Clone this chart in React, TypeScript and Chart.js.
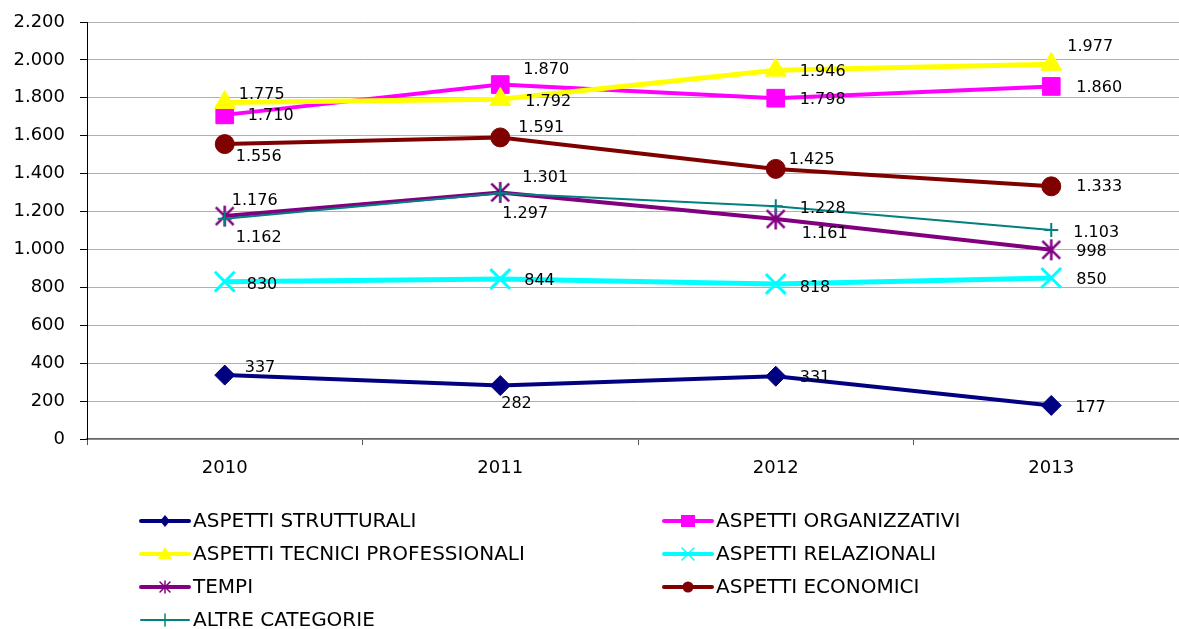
import React, { useEffect, useRef } from 'react';
import { Chart, registerables } from 'chart.js';

Chart.register(...registerables);

// ---------- data ----------
const YEARS = ['2010', '2011', '2012', '2013'];
const ASPETTI_STRUTTURALI = [337, 282, 331, 177];
const ASPETTI_ORGANIZZATIVI = [1710, 1870, 1798, 1860];
const ASPETTI_TECNICI_PROFESSIONALI = [1775, 1792, 1946, 1977];
const ASPETTI_RELAZIONALI = [830, 844, 818, 850];
const TEMPI = [1176, 1301, 1161, 998];
const ASPETTI_ECONOMICI = [1556, 1591, 1425, 1333];
const ALTRE_CATEGORIE = [1162, 1297, 1228, 1103];
const Y_MIN = 0;
const Y_MAX = 2200;
const Y_STEP = 200;

// label nudges (left edge dx, vertical centre dy) relative to each point
const LABEL_NUDGE: number[][][] = [
  [[20, -7], [1, 18], [24, 2], [24, 2]],
  [[23, 1], [23, -15], [24, 2], [25, 1]],
  [[14, -8], [25, 3], [24, 2], [16, -17]],
  [[22, 3], [24, 2], [24, 4], [25, 2]],
  [[7, -15], [22, -15], [26, 15], [25, 2]],
  [[11, 13], [18, -10], [13, -9], [25, 1]],
  [[11, 19], [2, 21], [24, 3], [22, 3]],
];

const FONT = '"DejaVu Sans", Verdana, sans-serif';

const fmt = (v: number) => String(Math.round(v)).replace(/\B(?=(\d{3})+(?!\d))/g, '.');

function makeStar(color: string, size: number, lw: number): HTMLCanvasElement {
  const c = document.createElement('canvas');
  c.width = size;
  c.height = size;
  const ctx = c.getContext('2d')!;
  ctx.strokeStyle = color;
  ctx.lineWidth = lw;
  const h = size / 2;
  const r = h - 1;
  const d = r * 0.85;
  ctx.beginPath();
  ctx.moveTo(h, h - r);
  ctx.lineTo(h, h + r);
  ctx.moveTo(h - d, h - d);
  ctx.lineTo(h + d, h + d);
  ctx.moveTo(h + d, h - d);
  ctx.lineTo(h - d, h + d);
  ctx.stroke();
  return c;
}

type Series = {
  label: string;
  data: number[];
  color: string;
  lw: number;
  marker: string;
  r: number;
  bw: number;
};

const SERIES: Series[] = [
  { label: 'ASPETTI STRUTTURALI', data: ASPETTI_STRUTTURALI, color: '#000080', lw: 4, marker: 'rectRot', r: 10, bw: 1 },
  { label: 'ASPETTI ORGANIZZATIVI', data: ASPETTI_ORGANIZZATIVI, color: '#FF00FF', lw: 4, marker: 'rect', r: 12.5, bw: 1 },
  { label: 'ASPETTI TECNICI PROFESSIONALI', data: ASPETTI_TECNICI_PROFESSIONALI, color: '#FFFF00', lw: 5, marker: 'triangle', r: 12, bw: 1 },
  { label: 'ASPETTI RELAZIONALI', data: ASPETTI_RELAZIONALI, color: '#00FFFF', lw: 5, marker: 'crossRot', r: 14, bw: 3 },
  { label: 'TEMPI', data: TEMPI, color: '#800080', lw: 4, marker: 'star', r: 11, bw: 2.5 },
  { label: 'ASPETTI ECONOMICI', data: ASPETTI_ECONOMICI, color: '#800000', lw: 4, marker: 'circle', r: 9.5, bw: 1 },
  { label: 'ALTRE CATEGORIE', data: ALTRE_CATEGORIE, color: '#008080', lw: 2, marker: 'cross', r: 7, bw: 2 },
];

function drawLegendMarker(ctx: CanvasRenderingContext2D, s: Series, x: number, y: number) {
  ctx.save();
  ctx.fillStyle = s.color;
  ctx.strokeStyle = s.color;
  ctx.beginPath();
  switch (s.marker) {
    case 'rectRot':
      ctx.moveTo(x, y - 6);
      ctx.lineTo(x + 5, y);
      ctx.lineTo(x, y + 6);
      ctx.lineTo(x - 5, y);
      ctx.closePath();
      ctx.fill();
      break;
    case 'rect':
      ctx.fillRect(x - 7, y - 6, 14, 12);
      break;
    case 'triangle':
      ctx.moveTo(x, y - 7);
      ctx.lineTo(x + 7, y + 5);
      ctx.lineTo(x - 7, y + 5);
      ctx.closePath();
      ctx.fill();
      break;
    case 'crossRot':
      ctx.lineWidth = 1.5;
      ctx.moveTo(x - 6, y - 6);
      ctx.lineTo(x + 6, y + 6);
      ctx.moveTo(x + 6, y - 6);
      ctx.lineTo(x - 6, y + 6);
      ctx.stroke();
      break;
    case 'star':
      ctx.lineWidth = 1.5;
      ctx.moveTo(x, y - 6);
      ctx.lineTo(x, y + 6);
      ctx.moveTo(x - 5, y - 5);
      ctx.lineTo(x + 5, y + 5);
      ctx.moveTo(x + 5, y - 5);
      ctx.lineTo(x - 5, y + 5);
      ctx.stroke();
      break;
    case 'circle':
      ctx.arc(x, y, 5.5, 0, Math.PI * 2);
      ctx.fill();
      break;
    case 'cross':
      ctx.lineWidth = 1.5;
      ctx.moveTo(x, y - 6);
      ctx.lineTo(x, y + 6);
      ctx.stroke();
      break;
  }
  ctx.restore();
}

const dataLabelPlugin = {
  id: 'dataLabels',
  afterDatasetsDraw(chart: any) {
    const ctx: CanvasRenderingContext2D = chart.ctx;
    ctx.save();
    ctx.font = `16px ${FONT}`;
    ctx.fillStyle = '#000';
    ctx.textAlign = 'left';
    ctx.textBaseline = 'middle';
    chart.data.datasets.forEach((ds: any, i: number) => {
      const meta = chart.getDatasetMeta(i);
      meta.data.forEach((pt: any, j: number) => {
        const [dx, dy] = LABEL_NUDGE[i][j];
        ctx.fillText(fmt(ds.data[j]), pt.x + dx, pt.y + dy);
      });
    });
    ctx.restore();
  },
};

const legendPlugin = {
  id: 'customLegend',
  afterDraw(chart: any) {
    const ctx: CanvasRenderingContext2D = chart.ctx;
    const colX = [140, 663];
    const rowY0 = 521;
    const rowH = 33;
    ctx.save();
    SERIES.forEach((s, i) => {
      const col = i % 2;
      const row = Math.floor(i / 2);
      const x = colX[col];
      const y = rowY0 + row * rowH;
      ctx.beginPath();
      ctx.strokeStyle = s.color;
      ctx.lineWidth = s.lw >= 4 ? 4 : 2;
      ctx.lineCap = 'round';
      ctx.moveTo(x + 1, y);
      ctx.lineTo(x + 49, y);
      ctx.stroke();
      drawLegendMarker(ctx, s, x + 25, y);
      ctx.font = `20px ${FONT}`;
      ctx.fillStyle = '#000';
      ctx.textAlign = 'left';
      ctx.textBaseline = 'middle';
      ctx.fillText(s.label, x + 53, y + 1);
    });
    ctx.restore();
  },
};

export default function App() {
  const ref = useRef<HTMLCanvasElement>(null);
  useEffect(() => {
    if (!ref.current) return;
    const starImg = makeStar('#800080', 23, 2.5);
    const chart = new Chart(ref.current, {
      type: 'line',
      data: {
        labels: YEARS,
        datasets: SERIES.map((s, i) => ({
          label: s.label,
          data: s.data,
          borderColor: s.color,
          backgroundColor: s.color,
          borderWidth: s.lw,
          pointStyle: s.marker === 'star' ? (starImg as any) : (s.marker as any),
          pointRadius: s.r,
          pointBorderWidth: s.bw,
          pointBackgroundColor: s.color,
          pointBorderColor: s.color,
          tension: 0,
          fill: false,
          order: SERIES.length - i,
        })),
      },
      options: {
        animation: false,
        responsive: false,
        devicePixelRatio: 1,
        layout: { autoPadding: false, padding: { top: 22, left: 0, right: 1, bottom: 0 } },
        plugins: {
          legend: { display: false },
          tooltip: { enabled: false },
        },
        scales: {
          x: {
            offset: true,
            grid: {
              offset: true,
              drawOnChartArea: false,
              drawTicks: true,
              tickLength: 6,
              color: '#555',
            },
            border: { display: true, color: '#666', width: 1.5 },
            ticks: {
              color: '#000',
              font: { family: FONT, size: 18 },
              padding: 13,
            },
            afterFit: (scale: any) => {
              scale.height = 190;
              scale.paddingLeft = 0;
              scale.paddingRight = 0;
            },
          },
          y: {
            min: Y_MIN,
            max: Y_MAX,
            grid: {
              color: '#b0b0b0',
              lineWidth: 1,
              drawTicks: true,
              tickLength: 7,
              tickColor: '#000',
            },
            border: { display: true, color: '#000', width: 1 },
            ticks: {
              stepSize: Y_STEP,
              color: '#000',
              font: { family: FONT, size: 18 },
              padding: 15,
              callback: (v: any) => fmt(Number(v)),
            },
            afterFit: (scale: any) => {
              scale.width = 87;
              scale.paddingTop = 0;
              scale.paddingBottom = 0;
            },
          },
        },
      },
      plugins: [dataLabelPlugin, legendPlugin],
    });
    return () => chart.destroy();
  }, []);

  return (
    <div
      style={{
        position: 'fixed',
        left: 0,
        top: 0,
        width: 1179,
        height: 629,
        overflow: 'hidden',
        background: '#fff',
      }}
    >
      <canvas ref={ref} width={1190} height={629} style={{ display: 'block', width: 1190, height: 629 }} />
    </div>
  );
}
